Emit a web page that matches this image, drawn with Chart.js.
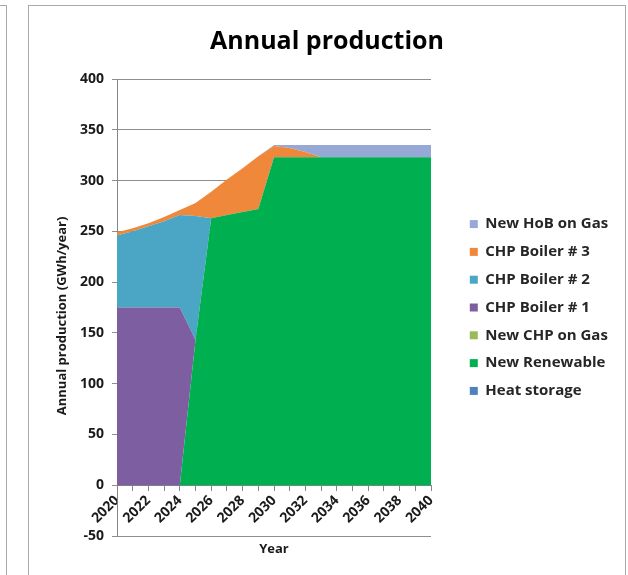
<!DOCTYPE html>
<html>
<head>
<meta charset="utf-8">
<script src="https://cdn.jsdelivr.net/npm/chart.js@4.4.1/dist/chart.umd.min.js"></script>
<style>
  body { margin: 0; background: #fff; overflow: hidden; }
  .prev { position: absolute; left: -20px; top: 5px; width: 27px; height: 620px; box-sizing: border-box; border: 1px solid #a9a9a9; }
  .box { position: absolute; left: 28px; top: 5px; width: 596px; height: 600px; border: 1px solid #a9a9a9; }
  .wrap { position: absolute; left: 0; top: 0; width: 596px; height: 570px; }
</style>
</head>
<body>
<div class="prev"></div>
<div class="box">
  <div class="wrap"><canvas id="chart"></canvas></div>
</div>
<script>
const years = ["2020", "2021", "2022", "2023", "2024", "2025", "2026", "2027", "2028", "2029", "2030",
  "2031", "2032", "2033", "2034", "2035", "2036", "2037", "2038", "2039", "2040"];

// GWh/year, stacked bottom -> top
const heatStorage  = [0, 0, 0, 0, 0, 0, 0, 0, 0, 0, 0, 0, 0, 0, 0, 0, 0, 0, 0, 0, 0];
const newRenewable = [0, 0, 0, 0, 0, 143, 263, 266, 269, 272, 323, 323, 323, 323, 323, 323, 323, 323, 323, 323, 323];
const newChpGas    = [0, 0, 0, 0, 0, 0, 0, 0, 0, 0, 0, 0, 0, 0, 0, 0, 0, 0, 0, 0, 0];
const chpBoiler1   = [175, 175, 175, 175, 175, 0, 0, 0, 0, 0, 0, 0, 0, 0, 0, 0, 0, 0, 0, 0, 0];
const chpBoiler2   = [71, 75, 80, 85, 91, 122, 0, 0, 0, 0, 0, 0, 0, 0, 0, 0, 0, 0, 0, 0, 0];
const chpBoiler3   = [3, 3, 3, 4, 5, 13, 26, 35, 43, 52, 11, 9, 5, 0, 0, 0, 0, 0, 0, 0, 0];
const newHobGas    = [0, 0, 0, 0, 0, 0, 0, 0, 0, 0, 1, 3, 7, 12, 12, 12, 12, 12, 12, 12, 12];

const font = "'Open Sans', 'DejaVu Sans', sans-serif";
Chart.defaults.font.family = font;
Chart.defaults.color = "#1a1a1a";

function area(label, data, color, fill) {
  return {
    label: label,
    data: data,
    backgroundColor: color,
    borderColor: color,
    borderWidth: 0,
    pointRadius: 0,
    tension: 0,
    fill: fill,
  };
}

// keep chart area fixed and move legend items away from the plot
const legendPlace = {
  id: "legendPlace",
  beforeInit(chart) {
    const fit = chart.legend.fit;
    chart.legend.fit = function () {
      fit.call(this);
      this.width = 194;
    };
  },
  afterLayout(chart) {
    chart.legend.left += 26;
    chart.legend.right += 26;
  },
};

new Chart(document.getElementById("chart"), {
  type: "line",
  data: {
    labels: years,
    datasets: [
      area("Heat storage", heatStorage, "#4f81bd", "origin"),
      area("New Renewable", newRenewable, "#00b050", "-1"),
      area("New CHP on Gas", newChpGas, "#9bbb59", "-1"),
      area("CHP Boiler # 1", chpBoiler1, "#7d5ea0", "-1"),
      area("CHP Boiler # 2", chpBoiler2, "#4ba5c4", "-1"),
      area("CHP Boiler # 3", chpBoiler3, "#f0883c", "-1"),
      area("New HoB on Gas", newHobGas, "#95a8d6", "-1"),
    ],
  },
  plugins: [legendPlace],
  options: {
    responsive: true,
    maintainAspectRatio: false,
    animation: false,
    layout: { padding: { left: 0, right: 0, top: 0, bottom: 40 } },
    plugins: {
      title: {
        display: true,
        text: "Annual production",
        color: "#000",
        font: { size: 25, weight: "bold" },
        padding: { top: 21, bottom: 22 },
      },
      legend: {
        position: "right",
        fullSize: false,
        reverse: true,
        labels: {
          boxWidth: 8,
          boxHeight: 8,
          padding: 12.8,
          color: "#262626",
          font: { size: 15, weight: "bold" },
        },
      },
      tooltip: { enabled: false },
    },
    scales: {
      x: {
        position: { y: 0 },
        z: 1,
        grid: { drawOnChartArea: false, drawTicks: true, tickLength: 5, color: "#868686" },
        border: { display: true, color: "#868686" },
        ticks: {
          autoSkip: false,
          minRotation: 45,
          maxRotation: 45,
          padding: 2,
          font: { size: 14, weight: "bold" },
          callback: (v, i) => (i % 2 === 0 ? years[i] : ""),
        },
        title: {
          display: true,
          text: "Year",
          font: { size: 13, weight: "bold" },
          padding: { top: 13, bottom: 0 },
        },
      },
      y: {
        stacked: true,
        min: -50,
        max: 400,
        afterFit: (scale) => { scale.width = 88; },
        grid: { color: "#8e8e8e", tickLength: 5 },
        border: { display: true, color: "#868686" },
        ticks: {
          stepSize: 50,
          padding: 8,
          font: { size: 14, weight: "bold" },
        },
        title: {
          display: true,
          text: "Annual production (GWh/year)     ",
          font: { size: 13, weight: "bold" },
          padding: { top: 25, bottom: 0 },
        },
      },
    },
  },
});
</script>
</body>
</html>
